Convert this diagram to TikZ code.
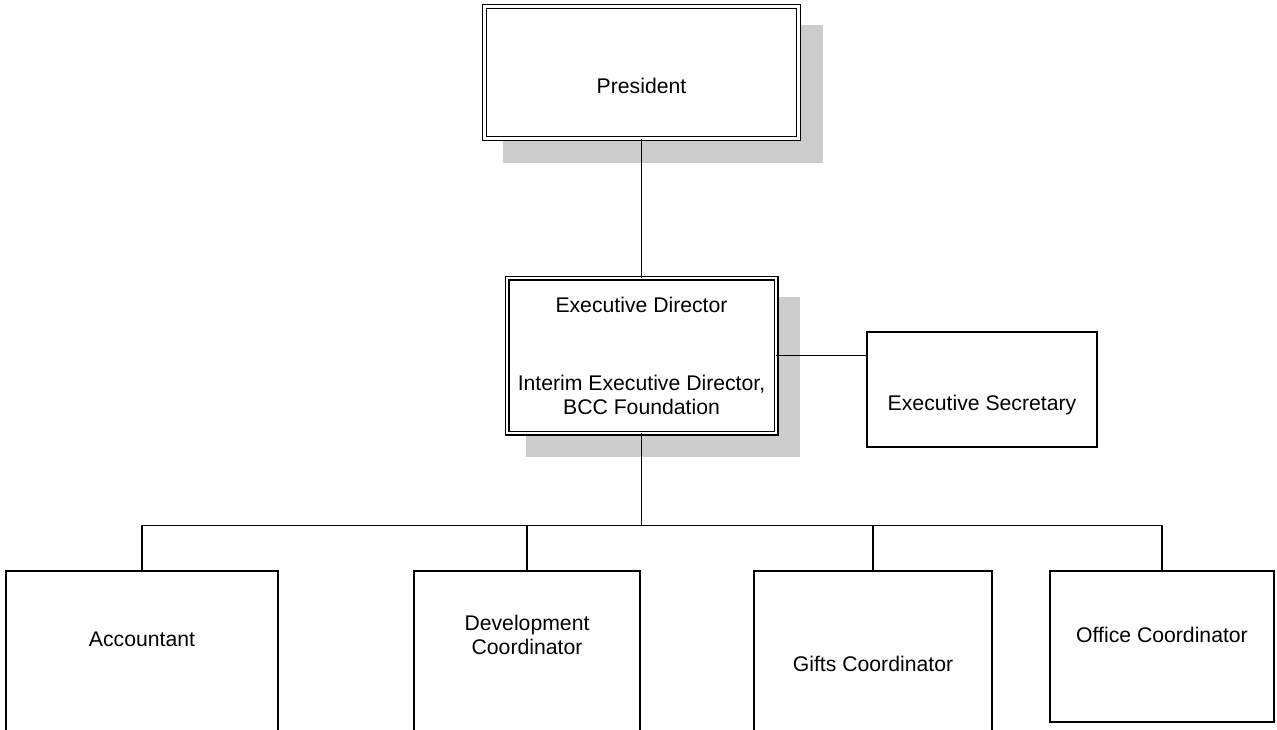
\documentclass[tikz,border=0pt]{standalone}
\usepackage{fontspec}
\setmainfont{Liberation Sans}
\begin{document}
\begin{tikzpicture}[x=1pt,y=-1pt,
  box/.style={draw, line width=1.5pt, fill=white, inner sep=0pt, outer sep=0pt},
  dbox/.style={draw, line width=1.2pt, double=white, double distance=2.6pt, fill=white, inner sep=0pt, outer sep=0pt},
  shadowbox/.style={fill=black!20, draw=none},
  lbl/.style={anchor=base, inner sep=0pt, font=\fontsize{21.2}{25}\selectfont},
  conn/.style={line width=1.6pt}]
\useasboundingbox (0,0) rectangle (1277,729);
\clip (0,0) rectangle (1277,729);
% shadows
\fill[shadowbox] (503,25) rectangle (823,163);
\fill[shadowbox] (526,297) rectangle (800,457);
% boxes
\node[dbox, minimum width=313.5, minimum height=132] (pres) at (641.5,72.5) {};
\node[dbox, minimum width=269, minimum height=155] (ed) at (641.5,355.5) {};
\node[box, minimum width=230, minimum height=115] (es) at (982,389.5) {};
\node[box, minimum width=272, minimum height=200] (acc) at (142,671) {};
\node[box, minimum width=226, minimum height=200] (dev) at (527,671) {};
\node[box, minimum width=238, minimum height=200] (gift) at (873,671) {};
\node[box, minimum width=224, minimum height=151] (off) at (1162,646.5) {};
% labels
\node[lbl] (prest) at (641.5,93) {President};
\node[lbl] (edt1) at (641.5,312) {Executive Director};
\node[lbl] (edt2) at (641.5,390) {Interim Executive Director,};
\node[lbl] (edt3) at (641.5,414.5) {BCC Foundation};
\node[lbl] (est) at (982,410) {Executive Secretary};
\node[lbl] (acct) at (142,646) {Accountant};
\node[lbl] (devt1) at (527,630) {Development};
\node[lbl] (devt2) at (527,654.5) {Coordinator};
\node[lbl] (giftt) at (873,671.5) {Gifts Coordinator};
\node[lbl] (offt) at (1162,642.5) {Office Coordinator};
% connectors
\coordinate (bus) at (641.5,525.5);
\draw[conn] (pres.south) -- (pres.south |- ed.north);
\draw[conn] (ed.east) -- (ed.east -| es.west);
\draw[conn] (ed.south) -- (ed.south |- bus);
\draw[conn] (acc.north) |- (bus) -| (off.north);
\draw[conn] (dev.north) -- (dev.north |- bus);
\draw[conn] (gift.north) -- (gift.north |- bus);
\end{tikzpicture}
\end{document}
